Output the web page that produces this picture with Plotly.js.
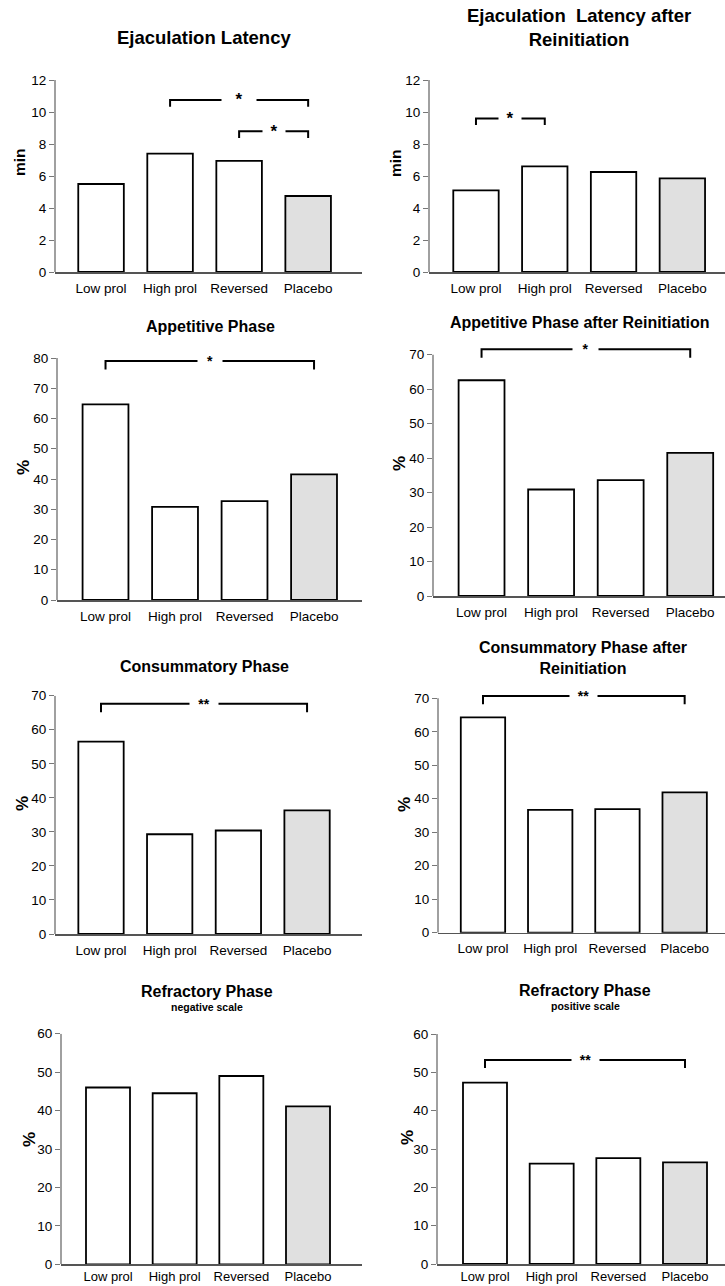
<!DOCTYPE html>
<html>
<head>
<meta charset="utf-8">
<script src="https://cdn.plot.ly/plotly-3.0.1.min.js"></script>
<style>
  html, body { margin: 0; padding: 0; background: #fff; }
  #chart { width: 725px; height: 1286px; }
</style>
</head>
<body>
<div id="chart"></div>
<script>
// ---------- data ----------
const groups = ['Low prol', 'High prol', 'Reversed', 'Placebo'];

const ejacLatency        = [5.5, 7.4, 6.95, 4.75];
const ejacLatencyReinit  = [5.1, 6.6, 6.25, 5.85];
const appetitive         = [64.7, 30.8, 32.7, 41.5];
const appetitiveReinit   = [62.6, 30.9, 33.6, 41.5];
const consummatory       = [56.5, 29.3, 30.4, 36.3];
const consummatoryReinit = [64.3, 36.7, 36.9, 41.9];
const refractoryNeg      = [46.0, 44.5, 49.0, 41.1];
const refractoryPos      = [47.3, 26.2, 27.6, 26.5];

const titles = [
  'Ejaculation Latency',
  'Ejaculation  Latency after<br>Reinitiation',
  'Appetitive Phase',
  'Appetitive Phase after Reinitiation',
  'Consummatory Phase',
  'Consummatory Phase after<br>Reinitiation',
  'Refractory Phase',
  'Refractory Phase'
];
const subtitles = ['', '', '', '', '', '', 'negative scale', 'positive scale'];
const yTitles = ['min', 'min', '%', '%', '%', '%', '%', '%'];
const yMaxTicks = [12, 12, 80, 70, 70, 70, 60, 60];
const yDticks = [2, 2, 10, 10, 10, 10, 10, 10];
const seriesList = [ejacLatency, ejacLatencyReinit, appetitive, appetitiveReinit,
                    consummatory, consummatoryReinit, refractoryNeg, refractoryPos];

// significance brackets: [panel, fromGroup, toGroup, height, label]
const brackets = [
  [0, 'High prol', 'Placebo', 10.75, '*'],
  [0, 'Reversed', 'Placebo', 8.8, '*'],
  [1, 'Low prol', 'High prol', 9.6, '*'],
  [2, 'Low prol', 'Placebo', 79, '*'],
  [3, 'Low prol', 'Placebo', 71.6, '*'],
  [4, 'Low prol', 'Placebo', 67.6, '**'],
  [5, 'Low prol', 'Placebo', 70.7, '**'],
  [7, 'Low prol', 'Placebo', 53.2, '**']
];

// ---------- geometry (pixels) ----------
const W = 725, H = 1286;
const geom = [
  {ax: 55,  right: 362, top: 80,    bot: 272,    yTop: 12, xr: [-0.667, 3.78], tx: 204, ty: 38,  yx: 19,  yy: 162},
  {ax: 429, right: 725, top: 80,    bot: 272,    yTop: 12, xr: [-0.683, 3.62], tx: 579, ty: 28,  yx: 395, yy: 163},
  {ax: 57,  right: 362, top: 358,   bot: 600,    yTop: 80, xr: [-0.698, 3.69], tx: 210, ty: 327, yx: 23,  yy: 468},
  {ax: 433, right: 725, top: 344.4, bot: 596,    yTop: 73, xr: [-0.698, 3.50], tx: 580, ty: 323, yx: 399, yy: 463},
  {ax: 55,  right: 362, top: 695.7, bot: 934,    yTop: 70, xr: [-0.670, 3.80], tx: 204, ty: 666, yx: 22,  yy: 804},
  {ax: 438, right: 725, top: 691.6, bot: 932.7,  yTop: 72, xr: [-0.669, 3.60], tx: 583, ty: 658, yx: 404, yy: 804},
  {ax: 61,  right: 362, top: 1033.7,bot: 1264.3, yTop: 60, xr: [-0.705, 3.81], tx: 207, ty: 991, yx: 29,  yy: 1140},
  {ax: 437, right: 725, top: 1034,  bot: 1264,   yTop: 60, xr: [-0.720, 3.60], tx: 585, ty: 990, yx: 407, yy: 1138}
];
const starGap = [34, 22, 22, 24, 25, 28, 27, 27];

const FONT = '"Liberation Sans", Arial, Helvetica, sans-serif';
const px = v => v / W;
const py = v => 1 - v / H;

const traces = [];
const shapes = [];
const annotations = [];
const layout = {
  width: W, height: H,
  margin: {l: 0, r: 0, t: 0, b: 0},
  paper_bgcolor: '#fff', plot_bgcolor: 'rgba(0,0,0,0)',
  showlegend: false,
  font: {family: FONT, color: '#000'},
  shapes: shapes, annotations: annotations
};

seriesList.forEach((vals, i) => {
  const g = geom[i];
  const n = i + 1;
  const xa = 'x' + (n === 1 ? '' : n);
  const ya = 'y' + (n === 1 ? '' : n);
  const bottomRow = i >= 6;
  traces.push({
    type: 'bar', x: groups, y: vals, xaxis: xa, yaxis: ya,
    width: 0.66,
    marker: {color: groups.map(gr => gr === 'Placebo' ? '#e0e0e0' : '#ffffff'),
             line: {color: '#000', width: 1.8}},
    hoverinfo: 'x+y'
  });
  layout['xaxis' + (n === 1 ? '' : n)] = {
    domain: [px(g.ax), px(g.right)], anchor: ya,
    range: g.xr, type: 'category',
    showline: true, linecolor: '#555', linewidth: 1.5,
    ticks: bottomRow ? '' : 'outside', ticklen: 3, tickcolor: 'rgba(0,0,0,0)',
    showgrid: false, zeroline: false, fixedrange: true,
    tickfont: {size: bottomRow ? 13 : 13.5, family: FONT, color: '#000'}
  };
  layout['yaxis' + (n === 1 ? '' : n)] = {
    domain: [py(g.bot), py(g.top)], anchor: xa,
    range: [0, g.yTop], dtick: yDticks[i], tick0: 0,
    showline: false, showgrid: false, zeroline: false,
    ticks: 'outside', ticklen: 5, tickcolor: '#777', tickwidth: 1,
    tickfont: {size: 13.5, family: FONT, color: '#000'}, fixedrange: true
  };
  // y axis line only up to the top tick
  shapes.push({
    type: 'line', xref: xa + ' domain', yref: ya,
    x0: 0, x1: 0, y0: 0, y1: yMaxTicks[i],
    line: {color: '#808080', width: 1.5}
  });
  // title
  const big = i < 2;
  annotations.push({
    xref: 'paper', yref: 'paper', x: px(g.tx), y: py(g.ty),
    xanchor: 'center', yanchor: 'middle', showarrow: false,
    text: '<b>' + titles[i] + '</b>',
    font: {size: big ? 18.5 : 16, family: FONT, color: '#000'}
  });
  if (subtitles[i]) {
    annotations.push({
      xref: 'paper', yref: 'paper', x: px(g.tx), y: py(g.ty + 16),
      xanchor: 'center', yanchor: 'middle', showarrow: false,
      text: '<b>' + subtitles[i] + '</b>',
      font: {size: 10.5, family: FONT, color: '#000'}
    });
  }
  // y title
  annotations.push({
    xref: 'paper', yref: 'paper', x: px(g.yx), y: py(g.yy),
    xanchor: 'center', yanchor: 'middle', showarrow: false, textangle: -90,
    text: '<b>' + yTitles[i] + '</b>',
    font: {size: yTitles[i] === '%' ? 17 : 15.5, family: FONT, color: '#000'}
  });
});

brackets.forEach((b, k) => {
  const [panel, from, to, h, label] = b;
  const n = panel + 1;
  const xa = 'x' + (n === 1 ? '' : n);
  const ya = 'y' + (n === 1 ? '' : n);
  const drop = yMaxTicks[panel] * 0.035;
  traces.push({
    type: 'scatter', mode: 'lines', xaxis: xa, yaxis: ya,
    x: [from, from, to, to], y: [h - drop, h, h, h - drop],
    line: {color: '#000', width: 2}, hoverinfo: 'skip', cliponaxis: false
  });
  const mid = (groups.indexOf(from) + groups.indexOf(to)) / 2;
  annotations.push({
    xref: xa, yref: ya, x: mid, y: h, xanchor: 'center', yanchor: 'middle',
    showarrow: false, text: '<b>' + label + '</b>', bgcolor: '#fff',
    width: starGap[k], borderpad: 0,
    font: {size: panel === 0 || panel === 1 ? 17 : 14, family: FONT, color: '#000'}
  });
});

Plotly.newPlot('chart', traces, layout, {staticPlot: true, displayModeBar: false});
</script>
</body>
</html>
